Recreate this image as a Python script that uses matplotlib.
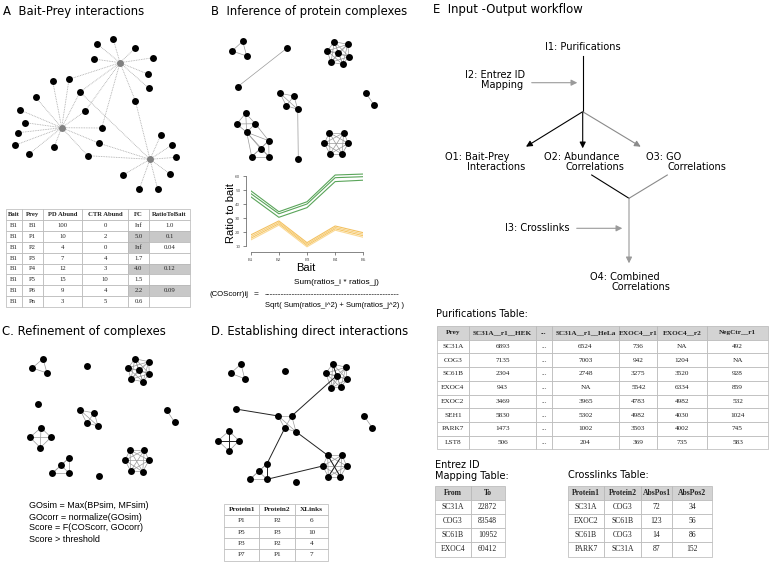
import itertools
import matplotlib
matplotlib.use("Agg")
import matplotlib.pyplot as plt
from matplotlib.patches import Rectangle

W, H = 774, 566
SANS = "DejaVu Sans"
ARIAL = "Liberation Sans"
SERIF = "Liberation Serif"

# ---------------- data ----------------
# panel A: bait-prey network (hubs = baits)
a_hubs = [(120, 62.7), (61.7, 127.7), (150, 159.3)]
a_preys = [(97.3, 44), (113.3, 39.3), (135.3, 48), (153.3, 57.7), (94, 59),
           (147.7, 74), (148.7, 88), (135.3, 100.7), (69, 79.3), (80, 92),
           (52.7, 81.3), (35.7, 97.3), (20, 110), (25.3, 122.7), (18.3, 132.7),
           (14.7, 145.3), (29, 154), (54, 147.3), (85, 111.3), (101.7, 128),
           (99.3, 143.3), (87.7, 155.7), (161, 134.7), (172.3, 144.7),
           (176.3, 157.3), (169.7, 173.7), (157.7, 189.3), (139.3, 189), (123, 175)]
a_links = [[0], [0], [0], [0], [0], [0], [0], [0, 2], [0, 1], [0, 1, 2],
           [1], [1], [1], [1], [1], [1], [1], [1], [0, 1], [0, 1],
           [1, 2], [1, 2], [2], [2], [2], [2], [2], [2], [2]]

a_header = ["Bait", "Prey", "PD Abund", "CTR Abund", "FC", "RatioToBait"]
a_rows = [["B1", "B1", "100", "0", "Inf", "1.0"],
          ["B1", "P1", "10", "2", "5.0", "0.1"],
          ["B1", "P2", "4", "0", "Inf", "0.04"],
          ["B1", "P3", "7", "4", "1.7", ""],
          ["B1", "P4", "12", "3", "4.0", "0.12"],
          ["B1", "P5", "15", "10", "1.5", ""],
          ["B1", "P6", "9", "4", "2.2", "0.09"],
          ["B1", "Pn", "3", "5", "0.6", ""]]
a_shaded = [(2, 4), (2, 5), (3, 4), (5, 4), (5, 5), (7, 4), (7, 5)]

# panel B: complexes + abundance profiles
b_nodes = [(242.7, 41.3), (232, 51), (246.7, 56),
           (286.7, 48.3), (237.7, 86.7),
           (334.3, 41.7), (347.7, 44.3), (327.3, 51), (338.3, 52.7), (349, 56.7), (331, 62.3), (342.7, 64.3),
           (366, 93.3), (374.3, 105.3),
           (280, 93.3), (294, 96), (286.3, 105.7), (297.7, 109.3), (298.3, 159),
           (245.7, 113.3), (236.7, 124), (255.3, 123.7), (246.7, 132.3),
           (268.7, 140.7), (260.7, 148.7), (251.7, 156.7), (269, 156.7),
           (329.3, 132.7), (343.7, 132.7), (324.3, 143.3), (348.3, 143.3), (330, 154), (342, 154)]
b_cliques = [[0, 1, 2], [3, 4], [5, 6, 7, 8, 9, 10, 11], [12, 13], [14, 15, 16, 17],
             [17, 18], [19, 20, 21, 22], [22, 23, 24, 25, 26], [21, 23],
             [27, 28, 29, 30, 31, 32]]

baits = ["B1", "B2", "B3", "B4", "B5"]
green_1 = [49.5, 34.5, 41.6, 60.7, 61.4]
green_2 = [47.5, 33.0, 40.0, 58.8, 59.5]
green_3 = [45.2, 30.5, 37.4, 56.0, 57.0]
orange_1 = [17.9, 27.9, 12.4, 24.3, 19.5]
orange_2 = [16.7, 26.9, 11.4, 23.3, 18.4]
orange_3 = [15.5, 25.9, 10.4, 22.3, 17.3]
orange_4 = [14.3, 24.9, 9.4, 21.3, 16.2]

# panel C: refined complexes
c_nodes = [(43, 358.7), (32.3, 368), (47, 373),
           (87.3, 365.7),
           (135, 358.7), (148.7, 361.7), (128, 368), (138.7, 370), (149.3, 373.7), (131, 379.3), (143, 381.7),
           (38.3, 403.7),
           (80.3, 410.3), (94.3, 413), (86.7, 423), (98, 426),
           (166.7, 410.3), (174.7, 422.3),
           (41, 427.7), (30, 437.3), (51, 437.3), (40.3, 447.7),
           (69.3, 457.7), (61, 465.3), (52.3, 473.3), (69.3, 473.3),
           (98.7, 476),
           (130, 450), (144.3, 450), (125, 460.3), (149, 460.3), (130.7, 471), (142.7, 471.7)]
c_cliques = [[0, 1, 2], [4, 5, 6, 7, 8, 9, 10], [12, 13, 14, 15], [16, 17],
             [18, 19, 20, 21], [22, 23, 24, 25], [27, 28, 29, 30, 31, 32]]
c_formulas = ["GOsim = Max(BPsim, MFsim)", "GOcorr = normalize(GOsim)",
              "Score = F(COScorr, GOcorr)", "Score > threshold"]

# panel D: direct interactions
d_nodes = [(241, 364), (230.7, 373.3), (244.7, 378.7),
           (285, 370.7),
           (332.7, 364), (346, 367.3), (325.7, 373.3), (336.7, 375.7), (347, 379.3), (331.3, 388), (340.7, 387.3),
           (235.7, 409),
           (278.3, 416), (291.7, 416), (284.7, 428.3), (296, 431.7),
           (364, 416), (372.3, 427.7),
           (229, 431), (218, 440.7), (239, 440.7), (229, 451),
           (267, 463.7), (258.7, 471.3), (250, 479.3), (267, 479.3),
           (296.3, 482),
           (327.7, 455.3), (342, 455.3), (322.7, 466), (346.7, 466), (328.3, 476.7), (340.3, 476.7)]
d_cliques = [[0, 1, 2], [4, 5, 6, 7, 8, 9, 10], [12, 13, 14, 15], [16, 17],
             [18, 19, 20, 21], [22, 23, 24, 25], [27, 28, 29, 30, 31, 32]]
d_xlinks = [(13, 7), (11, 12), (15, 27), (14, 22), (25, 29), (4, 7), (22, 25),
            (18, 21), (19, 20), (27, 32), (28, 31)]
d_header = ["Protein1", "Protein2", "XLinks"]
d_rows = [["P1", "P2", "6"], ["P5", "P3", "10"], ["P3", "P2", "4"], ["P7", "P1", "7"]]

# panel E: tables
pur_header = ["Prey", "SC31A__r1__HEK", "...", "SC31A__r1__HeLa", "EXOC4__r1", "EXOC4__r2", "NegCtr__r1"]
pur_rows = [["SC31A", "6893", "...", "6524", "736", "NA", "492"],
            ["COG3", "7135", "...", "7003", "942", "1204", "NA"],
            ["SC61B", "2304", "...", "2748", "3275", "3520", "928"],
            ["EXOC4", "943", "...", "NA", "5542", "6334", "859"],
            ["EXOC2", "3469", "...", "3965", "4783", "4982", "532"],
            ["SEH1", "5830", "...", "5302", "4982", "4030", "1024"],
            ["PARK7", "1473", "...", "1002", "3503", "4002", "745"],
            ["LST8", "506", "...", "204", "369", "735", "583"]]
ent_header = ["From", "To"]
ent_rows = [["SC31A", "22872"], ["COG3", "83548"], ["SC61B", "10952"], ["EXOC4", "60412"]]
xl_header = ["Protein1", "Protein2", "AbsPos1", "AbsPos2"]
xl_rows = [["SC31A", "COG3", "72", "34"], ["EXOC2", "SC61B", "123", "56"],
           ["SC61B", "COG3", "14", "86"], ["PARK7", "SC31A", "87", "152"]]

# ---------------- figure ----------------
fig = plt.figure(figsize=(W / 100, H / 100), dpi=100)
ax = fig.add_axes([0, 0, 1, 1])
ax.set_xlim(0, W)
ax.set_ylim(H, 0)
ax.axis("off")


def title(x, y, s):
    ax.text(x, y, s, fontsize=8.4, family=SANS, va="center", ha="left")


def draw_nodes(nodes, color="black", size=5.0):
    xs, ys = zip(*nodes)
    ax.plot(xs, ys, "o", color=color, ms=size, mec="none", zorder=3)


def draw_cliques(nodes, groups, color="#9a9a9a", lw=0.5, ls="-"):
    for g in groups:
        for i, j in itertools.combinations(g, 2):
            ax.plot([nodes[i][0], nodes[j][0]], [nodes[i][1], nodes[j][1]],
                    color=color, lw=lw, ls=ls, zorder=2)


def draw_table(x_edges, y_top, row_h, header, rows, fs, head_fill="white", shaded=(), family=SERIF):
    for r, row in enumerate([header] + rows):
        y0 = y_top + r * row_h
        for c, val in enumerate(row):
            x0, x1 = x_edges[c], x_edges[c + 1]
            fill = head_fill if r == 0 else ("#c8c8c8" if (r, c) in shaded else "white")
            ax.add_patch(Rectangle((x0, y0), x1 - x0, row_h, facecolor=fill,
                                   edgecolor="#b5b5b5", lw=0.5, zorder=1))
            ax.text((x0 + x1) / 2, y0 + row_h / 2, val, fontsize=fs, family=family,
                    fontweight="bold" if r == 0 else "normal", ha="center", va="center",
                    color="#222222", zorder=2)


# ---- A ----
title(3, 11, "A  Bait-Prey interactions")
for p, hubs in zip(a_preys, a_links):
    for h in hubs:
        ax.plot([p[0], a_hubs[h][0]], [p[1], a_hubs[h][1]], color="#a8a8a8", lw=0.6, ls=(0, (1, 1)), zorder=2)
draw_nodes(a_preys)
draw_nodes(a_hubs, color="#808080")
draw_table([6, 22, 43, 82, 128, 149, 190], 209, 10.9, a_header, a_rows, 4.8, shaded=a_shaded)

# ---- B ----
title(211, 11, "B  Inference of protein complexes")
draw_cliques(b_nodes, b_cliques)
draw_nodes(b_nodes)

bx = fig.add_axes([250.7 / W, (H - 250.2) / H, (363.3 - 250.7) / W, (250.2 - 171.8) / H])
xs = list(range(1, 6))
for ys in (green_1, green_2, green_3):
    bx.plot(xs, ys, color="#5aa55a", lw=0.8)
for ys, col in zip((orange_1, orange_2, orange_3, orange_4), ("#f3c160", "#f7cf7d", "#f5c666", "#fad995")):
    bx.plot(xs, ys, color=col, lw=0.8)
bx.set_xlim(1, 5)
bx.set_ylim(7, 63)
bx.set_xticks(xs)
bx.set_xticklabels(baits)
bx.set_yticks([10, 20, 30, 40, 50, 60])
bx.tick_params(labelsize=3, length=2, width=0.5, colors="#555555", pad=2)
for lab in bx.get_yticklabels():
    lab.set_rotation(90)
    lab.set_va("center")
for s in ("top", "right"):
    bx.spines[s].set_visible(False)
bx.spines["left"].set_position(("outward", 3.4))
bx.spines["left"].set_bounds(10, 60)
bx.spines["bottom"].set_position(("outward", 1.3))
bx.spines["bottom"].set_bounds(1, 5)
for s in ("left", "bottom"):
    bx.spines[s].set_linewidth(0.5)
    bx.spines[s].set_color("#555555")
bx.patch.set_alpha(0)
ax.text(231, 213, "Ratio to bait", rotation=90, fontsize=8, family=ARIAL, ha="center", va="center")
ax.text(306, 268, "Bait", fontsize=8, family=ARIAL, ha="center", va="center")

ax.text(336, 283, "Sum(ratios_i * ratios_j)", fontsize=6, family=ARIAL, ha="center", va="center")
ax.text(209, 295, "(COScorr)ij", fontsize=5.6, family=ARIAL, ha="left", va="center")
ax.text(256, 295, "=", fontsize=6, family=ARIAL, ha="center", va="center")
ax.text(265, 295, "-" * 49, fontsize=6, family=ARIAL, ha="left", va="center")
ax.text(265, 305.5, "Sqrt( Sum(ratios_i^2) + Sum(ratios_j^2) )", fontsize=5.5, family=ARIAL,
        ha="left", va="center")

# ---- C ----
title(2, 332, "C. Refinement of complexes")
draw_cliques(c_nodes, c_cliques)
draw_nodes(c_nodes)
for k, s in enumerate(c_formulas):
    ax.text(29, 506 + k * 11, s, fontsize=6.5, family=ARIAL, ha="left", va="center")

# ---- D ----
title(211, 332, "D. Establishing direct interactions")
draw_cliques(d_nodes, d_cliques)
for i, j in d_xlinks:
    ax.plot([d_nodes[i][0], d_nodes[j][0]], [d_nodes[i][1], d_nodes[j][1]], color="#222222", lw=0.7, zorder=2)
draw_nodes(d_nodes)
draw_table([224.3, 259.3, 295, 328.3], 504, 11.3, d_header, d_rows, 5.2)

# ---- E ----
title(433, 10, "E  Input -Output workflow")
fs = 7
ax.text(582.7, 46.7, "I1: Purifications", fontsize=fs, family=SANS, ha="center", va="center")
ax.text(465, 75, "I2: Entrez ID", fontsize=fs, family=SANS, ha="left", va="center")
ax.text(481, 85, "Mapping", fontsize=fs, family=SANS, ha="left", va="center")
ax.text(445, 156.7, "O1: Bait-Prey", fontsize=fs, family=SANS, ha="left", va="center")
ax.text(466.5, 166.7, "Interactions", fontsize=fs, family=SANS, ha="left", va="center")
ax.text(544, 156.7, "O2: Abundance", fontsize=fs, family=SANS, ha="left", va="center")
ax.text(565.5, 166.7, "Correlations", fontsize=fs, family=SANS, ha="left", va="center")
ax.text(646, 156.7, "O3: GO", fontsize=fs, family=SANS, ha="left", va="center")
ax.text(668, 166.7, "Correlations", fontsize=fs, family=SANS, ha="left", va="center")
ax.text(505, 228.3, "I3: Crosslinks", fontsize=fs, family=SANS, ha="left", va="center")
ax.text(590, 276.7, "O4: Combined", fontsize=fs, family=SANS, ha="left", va="center")
ax.text(611.5, 286.7, "Correlations", fontsize=fs, family=SANS, ha="left", va="center")


def arrow(p0, p1, color, lw=0.8):
    ax.annotate("", xy=p1, xytext=p0,
                arrowprops=dict(arrowstyle="-|>", color=color, lw=lw, mutation_scale=9,
                                shrinkA=0, shrinkB=0))


jx, jy = 582.7, 111.7
ax.plot([jx, jx], [56, jy], color="black", lw=0.8)
arrow((531.7, 82.7), (577.3, 82.7), "#9a9a9a")
arrow((jx, jy), (526, 146.7), "black")
arrow((jx, jy), (jx, 148.3), "black")
arrow((jx, jy), (640.7, 146.7), "#8a8a8a")
ax.plot([591.7, 629], [175, 198.3], color="black", lw=0.8)
ax.plot([667.3, 629], [175, 198.3], color="#8a8a8a", lw=0.8)
arrow((629, 198.3), (629, 263.3), "#9a9a9a")
arrow((576.7, 228.3), (622.3, 228.3), "#9a9a9a")

ax.text(436, 314, "Purifications Table:", fontsize=7, family=SANS, ha="left", va="center")
draw_table([436.7, 469, 536, 551.7, 619.3, 657.3, 706.7, 768.3], 326, 13.7,
           pur_header, pur_rows, 5.2, head_fill="#d3d3d3")

ax.text(435, 465, "Entrez ID", fontsize=7, family=SANS, ha="left", va="center")
ax.text(435, 476, "Mapping Table:", fontsize=7, family=SANS, ha="left", va="center")
draw_table([435, 470.7, 504.7], 486, 14.1, ent_header, ent_rows, 5.5, head_fill="#d3d3d3")

ax.text(567.7, 475, "Crosslinks Table:", fontsize=7, family=SANS, ha="left", va="center")
draw_table([567.7, 604.3, 640.7, 672.3, 712.3], 486, 14.1, xl_header, xl_rows, 5.5, head_fill="#d3d3d3")

fig.savefig("out.png", dpi=100)
